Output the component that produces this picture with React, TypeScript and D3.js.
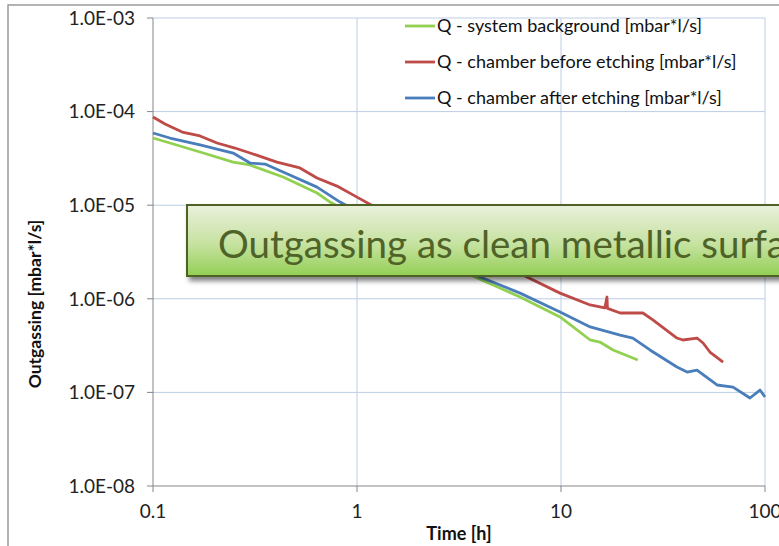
import React from 'react';
import * as d3 from 'd3';

// time [h] and outgassing [mbar*l/s]
const bgTime = [0.1, 0.121, 0.17, 0.247, 0.299, 0.434, 0.637, 0.738, 1.62, 3.79, 6.3, 9.89, 13.9, 15.5, 18.0, 23.8];
const bgQ = [5.22e-5, 4.62e-5, 3.7e-5, 2.89e-5, 2.69e-5, 2.0e-5, 1.35e-5, 1.08e-5, 4.25e-6, 1.71e-6, 1.045e-6, 6.4e-7, 3.63e-7, 3.45e-7, 2.84e-7, 2.22e-7];

const beforeTime = [0.1, 0.1145, 0.139, 0.17, 0.206, 0.252, 0.299, 0.405, 0.525, 0.637, 0.798, 1.0, 1.18, 2.86, 6.81, 9.89, 13.9, 16.4, 16.8, 16.9, 19.5, 25.2, 28.2, 37.0, 39.6, 46.4, 49.7, 53.7, 62.3];
const beforeQ = [8.76e-5, 7.37e-5, 6.05e-5, 5.49e-5, 4.62e-5, 4.08e-5, 3.61e-5, 2.89e-5, 2.5e-5, 1.95e-5, 1.6e-5, 1.22e-5, 1.0e-5, 4.25e-6, 1.71e-6, 1.15e-6, 8.59e-7, 7.98e-7, 1.045e-6, 7.9e-7, 7.05e-7, 7.05e-7, 5.94e-7, 3.81e-7, 3.63e-7, 3.81e-7, 3.37e-7, 2.7e-7, 2.11e-7];

const afterTime = [0.1, 0.121, 0.17, 0.247, 0.299, 0.354, 0.434, 0.637, 0.826, 1.82, 4.01, 6.3, 9.89, 13.9, 19.5, 22.5, 27.3, 37.0, 41.5, 46.4, 58.2, 69.7, 84.4, 94.5, 100];
const afterQ = [5.91e-5, 5.22e-5, 4.4e-5, 3.61e-5, 2.82e-5, 2.75e-5, 2.26e-5, 1.56e-5, 1.08e-5, 4.25e-6, 1.71e-6, 1.15e-6, 7.23e-7, 5.0e-7, 4.1e-7, 3.81e-7, 2.84e-7, 1.87e-7, 1.65e-7, 1.73e-7, 1.2e-7, 1.14e-7, 8.71e-8, 1.06e-7, 8.93e-8];

const xTicks = [0.1, 1, 10, 100];
const xTickLabels = ['0.1', '1', '10', '100'];
const yTicks = [1e-3, 1e-4, 1e-5, 1e-6, 1e-7, 1e-8];
const yTickLabels = ['1.0E-03', '1.0E-04', '1.0E-05', '1.0E-06', '1.0E-07', '1.0E-08'];

const seriesNames = [
  'Q - system background [mbar*l/s]',
  'Q - chamber before etching [mbar*l/s]',
  'Q - chamber after etching [mbar*l/s]',
];
const seriesColors = ['#92d050', '#be4b48', '#4a7ebb'];

const FONT = 'Lato, "Open Sans", sans-serif';

export default function App() {
  const W = 779;
  const H = 546;
  const x = d3.scaleLog().domain([0.1, 100]).range([153, 765]);
  const y = d3.scaleLog().domain([1e-8, 1e-3]).range([486, 18]);

  const line = d3.line<[number, number]>()
    .x(d => x(d[0]))
    .y(d => y(d[1]));

  const series = [
    bgTime.map((t, i) => [t, bgQ[i]] as [number, number]),
    beforeTime.map((t, i) => [t, beforeQ[i]] as [number, number]),
    afterTime.map((t, i) => [t, afterQ[i]] as [number, number]),
  ];

  const [x0, x1] = x.range();
  const [y0, y1] = y.range();

  return (
    <svg width={W} height={H} style={{ position: 'absolute', left: 0, top: 0, background: '#fff' }}>
      <defs>
        <linearGradient id="boxGrad" x1="0" y1="0" x2="0" y2="1">
          <stop offset="0" stopColor="#e9f0dc" />
          <stop offset="0.55" stopColor="#c6e2a0" />
          <stop offset="1" stopColor="#93cf55" />
        </linearGradient>
        <filter id="shadow" x="-5%" y="-20%" width="120%" height="160%">
          <feGaussianBlur in="SourceAlpha" stdDeviation="2.5" />
          <feOffset dx="3" dy="4" result="b" />
          <feComponentTransfer><feFuncA type="linear" slope="0.5" /></feComponentTransfer>
          <feMerge><feMergeNode /><feMergeNode in="SourceGraphic" /></feMerge>
        </filter>
      </defs>

      {/* chart frame */}
      <rect x={8} y={5} width={W + 20} height={H + 20} fill="none" stroke="#8c8c8c" strokeWidth={1.3} />

      {/* gridlines */}
      {yTicks.slice(0, -1).map(v => (
        <line key={'gy' + v} x1={x0} x2={x1} y1={y(v)} y2={y(v)} stroke="#bccde5" strokeWidth={1} />
      ))}
      {xTicks.slice(1).map(v => (
        <line key={'gx' + v} x1={x(v)} x2={x(v)} y1={y1} y2={y0} stroke="#bccde5" strokeWidth={1} />
      ))}

      {/* axes */}
      <line x1={x0} x2={x0} y1={y1} y2={y0} stroke="#868686" strokeWidth={1} />
      <line x1={x0} x2={x1} y1={y0} y2={y0} stroke="#868686" strokeWidth={1} />
      {yTicks.map(v => (
        <line key={'ty' + v} x1={x0 - 6} x2={x0} y1={y(v)} y2={y(v)} stroke="#868686" />
      ))}
      {xTicks.map(v => (
        <line key={'tx' + v} x1={x(v)} x2={x(v)} y1={y0} y2={y0 + 6} stroke="#868686" />
      ))}

      {yTicks.map((v, i) => (
        <text key={'ly' + v} x={135} y={y(v)} dy="0.36em" textAnchor="end" fontFamily={FONT} fontSize={19} fill="#222">
          {yTickLabels[i]}
        </text>
      ))}
      {xTicks.map((v, i) => (
        <text key={'lx' + v} x={x(v)} y={518} textAnchor="middle" fontFamily={FONT} fontSize={19} fill="#222">
          {xTickLabels[i]}
        </text>
      ))}

      <text x={459} y={540} textAnchor="middle" fontFamily={FONT} fontWeight="bold" fontSize={18} fill="#111">
        Time [h]
      </text>
      <text transform="translate(41,304) rotate(-90)" textAnchor="middle" fontFamily={FONT} fontWeight="bold" fontSize={17.5} fill="#111">
        Outgassing [mbar*l/s]
      </text>

      {/* series */}
      {series.map((s, i) => (
        <path key={'s' + i} d={line(s) || ''} fill="none" stroke={seriesColors[i]} strokeWidth={2.8} strokeLinejoin="round" />
      ))}

      {/* legend */}
      {seriesNames.map((n, i) => (
        <g key={'lg' + i} transform={`translate(405,${26 + i * 36})`}>
          <line x1={0} x2={30} y1={0} y2={0} stroke={seriesColors[i]} strokeWidth={2.8} />
          <text x={32} y={0} dy="0.36em" fontFamily={FONT} fontSize={18} fill="#111">{n}</text>
        </g>
      ))}

      {/* annotation box */}
      <g filter="url(#shadow)">
        <rect x={187} y={205} width={640} height={71} fill="url(#boxGrad)" stroke="#4f6228" strokeWidth={2} />
      </g>
      <text x={218} y={258} fontFamily={FONT} fontSize={38.5} fill="#4f6228">
        Outgassing as clean metallic surface
      </text>
    </svg>
  );
}
